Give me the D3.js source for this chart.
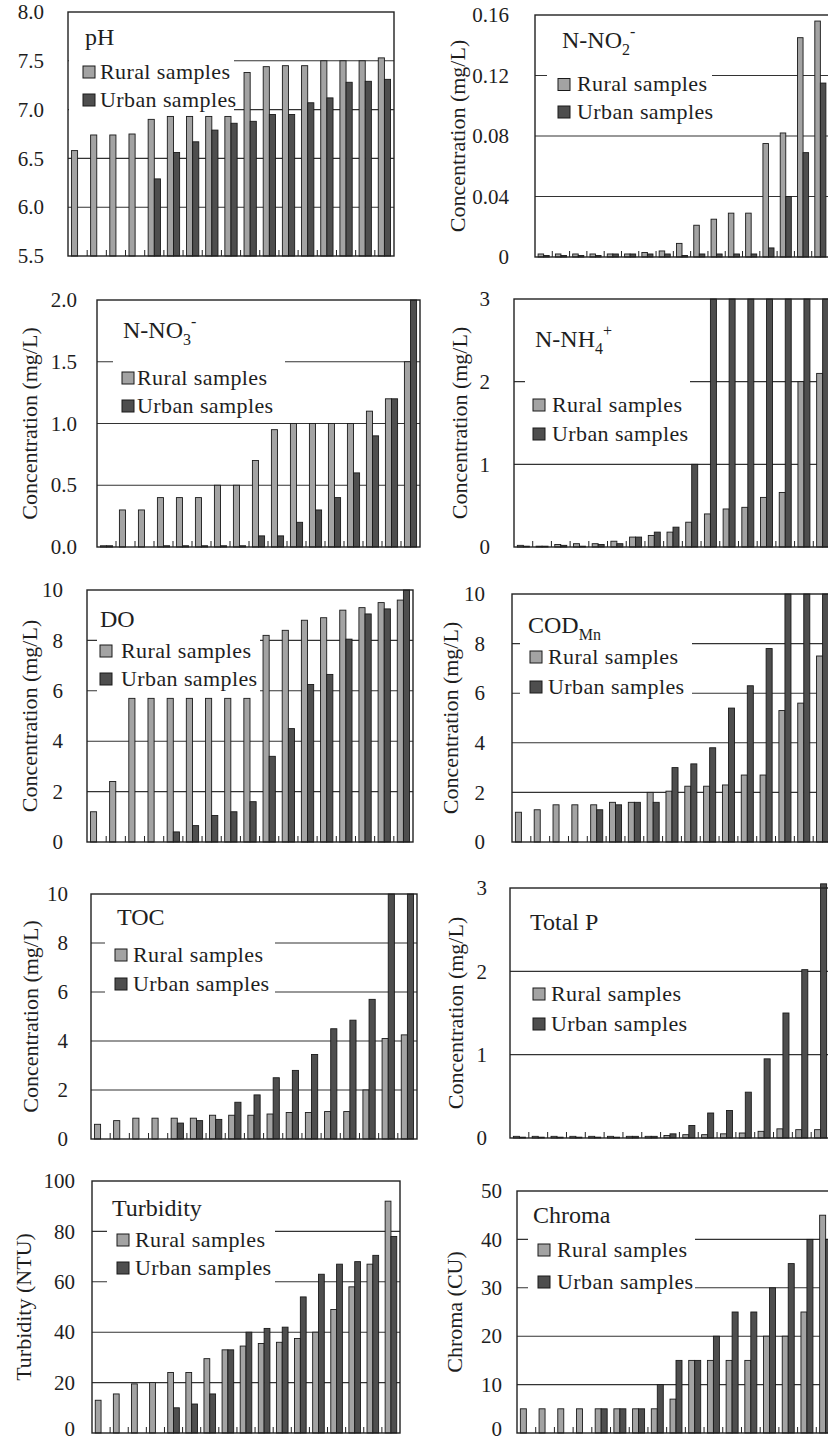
<!DOCTYPE html>
<html><head><meta charset="utf-8">
<script src="https://cdn.jsdelivr.net/npm/d3@7"></script>
<style>
body{margin:0;background:#fff}
svg{display:block}
text{font-family:"Liberation Serif","Times New Roman",serif;fill:#1e1e1e}
</style>
</head><body>
<svg id="chart" width="828" height="1442"></svg>
<script>
// ---------- DATA ----------
const categories = ["1","2","3","4","5","6","7","8","9","10","11","12","13","14","15","16","17"];
const seriesNames = ["Rural samples","Urban samples"];

const phRural = [6.58,6.74,6.74,6.75,6.90,6.93,6.93,6.93,6.93,7.38,7.44,7.45,7.45,7.50,7.50,7.50,7.53];
const phUrban = [null,null,null,null,6.29,6.56,6.67,6.79,6.86,6.88,6.95,6.95,7.07,7.12,7.28,7.29,7.31];
const phTicks = ["5.5","6.0","6.5","7.0","7.5","8.0"];

const no2Rural = [0.002,0.002,0.002,0.002,0.002,0.002,0.003,0.004,0.009,0.021,0.025,0.029,0.029,0.075,0.082,0.145,0.156];
const no2Urban = [0.001,0.001,0.001,0.001,0.002,0.002,0.002,0.002,0.001,0.002,0.002,0.002,0.002,0.006,0.040,0.069,0.115];
const no2Ticks = ["0","0.04","0.08","0.12","0.16"];

const no3Rural = [0.01,0.30,0.30,0.40,0.40,0.40,0.50,0.50,0.70,0.95,1.00,1.00,1.00,1.00,1.10,1.20,1.50];
const no3Urban = [0.01,0,0,0.01,0.01,0.01,0.01,0.01,0.09,0.09,0.20,0.30,0.40,0.60,0.90,1.20,2.00];
const no3Ticks = ["0.0","0.5","1.0","1.5","2.0"];

const nh4Rural = [0.02,0.01,0.03,0.04,0.04,0.07,0.12,0.14,0.18,0.30,0.40,0.46,0.48,0.60,0.66,2.00,2.10];
const nh4Urban = [0.01,0.01,0.02,0.01,0.03,0.04,0.12,0.18,0.24,1.00,3,3,3,3,3,3,3];
const nh4Ticks = ["0","1","2","3"];

const doRural = [1.2,2.4,5.7,5.7,5.7,5.7,5.7,5.7,5.7,8.2,8.4,8.8,8.9,9.2,9.3,9.5,9.6];
const doUrban = [null,null,null,null,0.4,0.65,1.05,1.2,1.6,3.4,4.5,6.25,6.65,8.05,9.05,9.25,10];
const doTicks = ["0","2","4","6","8","10"];

const codRural = [1.2,1.3,1.5,1.5,1.5,1.6,1.6,2.0,2.05,2.25,2.25,2.3,2.7,2.7,5.3,5.6,7.5];
const codUrban = [null,null,null,null,1.3,1.5,1.6,1.6,3.0,3.15,3.8,5.4,6.3,7.8,10,10,10];
const codTicks = ["0","2","4","6","8","10"];

const tocRural = [0.6,0.75,0.85,0.85,0.85,0.85,0.97,0.97,0.97,1.02,1.08,1.08,1.12,1.12,2.0,4.1,4.25];
const tocUrban = [null,null,null,null,0.65,0.75,0.8,1.5,1.8,2.5,2.8,3.45,4.5,4.85,5.7,10,10];
const tocTicks = ["0","2","4","6","8","10"];

const tpRural = [0.02,0.02,0.02,0.02,0.02,0.02,0.02,0.02,0.03,0.04,0.04,0.05,0.06,0.08,0.11,0.10,0.10];
const tpUrban = [0.01,0.01,0.01,0.01,0.01,0.01,0.02,0.02,0.05,0.15,0.30,0.33,0.55,0.95,1.50,2.02,3.05];
const tpTicks = ["0","1","2","3"];

const turbRural = [13,15.5,19.5,20,24,24,29.5,33,34.5,35.5,36,37.5,40,49,58,67,92];
const turbUrban = [null,null,null,null,10,11.5,15.5,33,40,41.5,42,54,63,67,68,70.5,78];
const turbTicks = ["0","20","40","60","80","100"];

const chromaRural = [5,5,5,5,5,5,5,5,7,15,15,15,15,20,20,25,45];
const chromaUrban = [null,null,null,null,5,5,5,10,15,15,20,25,25,30,35,40,40];
const chromaTicks = ["0","10","20","30","40","50"];

// ---------- LAYOUT ----------
const conc = "Concentration (mg/L)";
const panels = [
 {title:[["pH"]], rural:phRural, urban:phUrban, ticks:phTicks,
  x0:68,x1:394,y0:12,y1:256, gap:24, ytitle:null, ytx:0,
  tx:85,ty:45, lx:83, lr:72, lu:100, ltx:100, mask:[69,55,234,115]},
 {title:[["N-NO"],["2","sub"],["-","sup"]], rural:no2Rural, urban:no2Urban, ticks:no2Ticks,
  x0:535,x1:829,y0:15,y1:257, gap:26, ytitle:conc, ytx:457,
  tx:562,ty:48, lx:558, lr:84.5, lu:112, ltx:577, mask:[547,66,712,124]},
 {title:[["N-NO"],["3","sub"],["-","sup"]], rural:no3Rural, urban:no3Urban, ticks:no3Ticks,
  x0:97,x1:420,y0:300,y1:547, gap:20, ytitle:conc, ytx:29,
  tx:123,ty:338, lx:122, lr:378, lu:406, ltx:137, mask:[113,352,285,372]},
 {title:[["N-NH"],["4","sub"],["+","sup"]], rural:nh4Rural, urban:nh4Urban, ticks:nh4Ticks,
  x0:514,x1:832,y0:299,y1:547, gap:24, ytitle:conc, ytx:459,
  tx:535,ty:347, lx:533, lr:405, lu:434, ltx:552, mask:[525,370,690,390]},
 {title:[["DO"]], rural:doRural, urban:doUrban, ticks:doTicks,
  x0:87,x1:413,y0:590,y1:842, gap:24, ytitle:conc, ytx:29,
  tx:100,ty:627, lx:100, lr:651, lu:679, ltx:121, mask:[97,634,260,697]},
 {title:[["COD"],["Mn","sub"]], rural:codRural, urban:codUrban, ticks:codTicks,
  x0:512,x1:832,y0:594,y1:842, gap:27, ytitle:conc, ytx:450,
  tx:528,ty:633, lx:530, lr:657, lu:687, ltx:548, mask:[520,638,692,698]},
 {title:[["TOC"]], rural:tocRural, urban:tocUrban, ticks:tocTicks,
  x0:91,x1:417,y0:894,y1:1139, gap:23, ytitle:conc, ytx:30,
  tx:117,ty:925, lx:115, lr:955, lu:984, ltx:133, mask:[105,937,275,998]},
 {title:[["Total P"]], rural:tpRural, urban:tpUrban, ticks:tpTicks,
  x0:510,x1:830,y0:888,y1:1138, gap:23, ytitle:conc, ytx:455,
  tx:530,ty:930, lx:533, lr:994, lu:1024, ltx:551, mask:null},
 {title:[["Turbidity"]], rural:turbRural, urban:turbUrban, ticks:turbTicks,
  x0:92,x1:400,y0:1181,y1:1433, gap:17, ytitle:"Turbidity (NTU)", ytx:23,
  tx:112,ty:1216, lx:117, lr:1240, lu:1268, ltx:135, mask:[107,1225,275,1287]},
 {title:[["Chroma"]], rural:chromaRural, urban:chromaUrban, ticks:chromaTicks,
  x0:517,x1:835,y0:1191,y1:1433, gap:15, ytitle:"Chroma (CU)", ytx:454,
  tx:533,ty:1223, lx:538, lr:1250, lu:1282, ltx:557, mask:[528,1233,695,1294]}
];

const colors = {"Rural samples":"#a3a3a3","Urban samples":"#4e4e4e"};
const svg = d3.select("#chart");
svg.append("rect").attr("width",828).attr("height",1442).attr("fill","#fff");

panels.forEach(p=>{
  const g = svg.append("g");
  const tickVals = p.ticks.map(Number);
  const y = d3.scaleLinear().domain([tickVals[0], tickVals[tickVals.length-1]]).range([p.y1,p.y0]);
  const x = d3.scaleBand().domain(categories).range([p.x0,p.x1]).padding(0);
  const xs = d3.scaleBand().domain(seriesNames).range([0,x.bandwidth()]).paddingInner(0).paddingOuter(0.56);

  // gridlines
  g.selectAll("line.grid").data(tickVals.slice(1,-1)).join("line")
    .attr("x1",p.x0).attr("x2",p.x1).attr("y1",d=>y(d)).attr("y2",d=>y(d))
    .attr("stroke","#333").attr("stroke-width",1.1);

  // legend white box interrupting gridlines
  if(p.mask){
    g.append("rect").attr("x",p.mask[0]).attr("y",p.mask[1])
      .attr("width",p.mask[2]-p.mask[0]).attr("height",p.mask[3]-p.mask[1]).attr("fill","#fff");
  }

  // bars
  const rows = categories.map((c,i)=>({cat:c, vals:[
    {s:seriesNames[0], v:p.rural[i]},{s:seriesNames[1], v:p.urban[i]}]}));
  const grp = g.selectAll("g.cat").data(rows).join("g").attr("transform",d=>`translate(${x(d.cat)},0)`);
  grp.selectAll("rect").data(d=>d.vals.filter(e=>e.v!==null && e.v>tickVals[0])).join("rect")
    .attr("x",d=>xs(d.s)).attr("width",xs.bandwidth())
    .attr("y",d=>y(d.v)).attr("height",d=>Math.max(0,p.y1-y(d.v)))
    .attr("fill",d=>colors[d.s]).attr("stroke","#1a1a1a").attr("stroke-width",0.9);

  // frame
  g.append("rect").attr("x",p.x0).attr("y",p.y0).attr("width",p.x1-p.x0).attr("height",p.y1-p.y0)
    .attr("fill","none").attr("stroke","#222").attr("stroke-width",1.4);

  // category boundary tick marks (inside)
  g.selectAll("line.ct").data(categories.slice(1)).join("line")
    .attr("x1",d=>x(d)).attr("x2",d=>x(d)).attr("y1",p.y1).attr("y2",p.y1-6)
    .attr("stroke","#222").attr("stroke-width",1);

  // y axis labels
  const ax = g.append("g").attr("transform",`translate(${p.x0},0)`)
    .call(d3.axisLeft(y).tickValues(tickVals).tickFormat((d,i)=>p.ticks[i]).tickSize(0).tickPadding(p.gap));
  ax.select(".domain").remove();
  ax.selectAll("text").attr("font-size",21).attr("font-family","Liberation Serif, serif").attr("fill","#1e1e1e")
    .attr("dy",d=> y(d) > 1420 ? "0.12em" : "0.32em");

  // y title
  if(p.ytitle){
    g.append("text").attr("transform",`translate(${p.ytx},${(p.y0+p.y1)/2}) rotate(-90)`)
      .attr("text-anchor","middle").attr("dy","0.35em").attr("font-size",22).text(p.ytitle);
  }

  // panel title
  const t = g.append("text").attr("x",p.tx).attr("y",p.ty).attr("font-size",24);
  let shift = 0;
  p.title.forEach(([s,k])=>{
    const ts = t.append("tspan").text(s);
    if(k==="sub"){ ts.attr("font-size",16).attr("dy",7-shift); shift=7; }
    else if(k==="sup"){ ts.attr("font-size",16).attr("dy",-11-shift); shift=-11; }
    else if(shift){ ts.attr("dy",-shift); shift=0; }
  });

  // legend
  [[seriesNames[0],p.lr],[seriesNames[1],p.lu]].forEach(([s,cy])=>{
    g.append("rect").attr("x",p.lx).attr("y",cy-6).attr("width",12).attr("height",12)
      .attr("fill",colors[s]).attr("stroke","#1a1a1a").attr("stroke-width",1);
    g.append("text").attr("x",p.ltx).attr("y",cy+6.5).attr("font-size",22)
      .attr("letter-spacing","0.4px").text(s);
  });
});
</script>
</body></html>
